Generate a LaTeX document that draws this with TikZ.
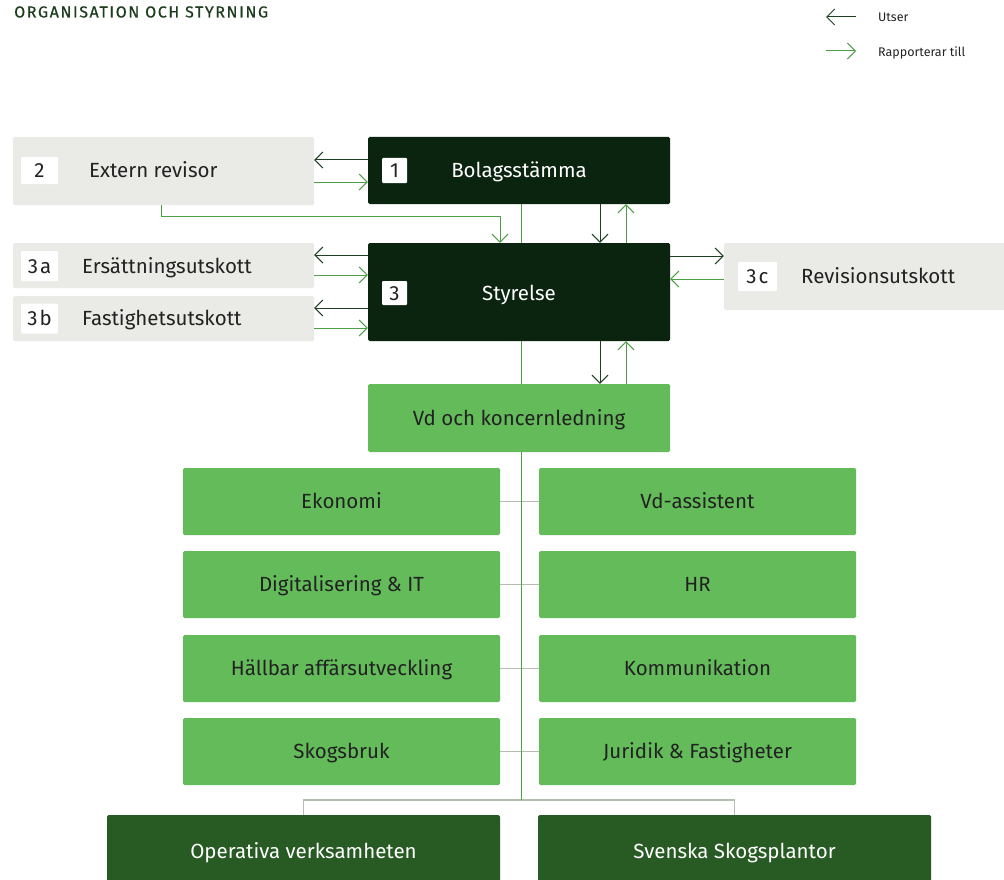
\documentclass[tikz,border=0pt]{standalone}
\usepackage{fontspec}
\setmainfont{Fira Sans}
\usetikzlibrary{arrows.meta,calc}
\definecolor{dkbox}{HTML}{0B2410}
\definecolor{dkline}{HTML}{1F3F22}
\definecolor{gnline}{HTML}{4E9E48}
\definecolor{ltbox}{HTML}{EAEBE7}
\definecolor{vdbox}{HTML}{63BB5A}
\definecolor{botbox}{HTML}{285A24}
\definecolor{grline}{HTML}{B4BFB2}
\definecolor{txt}{HTML}{222222}
\definecolor{titlec}{HTML}{1E3D1E}
\newcommand{\boxfont}{\fontsize{20.5}{24}\selectfont}
\tikzset{
  fixedtext/.style={text height=14pt, text depth=0pt},
  boxbase/.style={rectangle, inner sep=0pt, rounded corners=1.5pt, draw=none, fixedtext},
  lbox/.style={boxbase, fill=ltbox},
  dbox/.style={boxbase, fill=dkbox, text=white, font=\boxfont},
  gbox/.style={boxbase, fill=vdbox, text=txt, font=\boxfont},
  bbox/.style={boxbase, fill=botbox, text=white, font=\boxfont},
  numbox/.style={rectangle, inner sep=0pt, rounded corners=1pt, fill=white, text=txt, font=\boxfont, fixedtext},
  ltext/.style={inner sep=0pt, text=txt, font=\boxfont, fixedtext},
  wtext/.style={inner sep=0pt, text=white, font=\boxfont, fixedtext},
  dkarrow/.style={draw=dkline, line width=1pt, -{Straight Barb[length=8pt,width=16pt]}},
  gnarrow/.style={draw=gnline, line width=1pt, -{Straight Barb[length=8pt,width=16pt]}},
  gnplain/.style={draw=gnline, line width=1pt},
  grplain/.style={draw=grline, line width=1.2pt},
  legtext/.style={inner sep=0pt, anchor=west, text=txt, font=\fontsize{12.5}{14}\selectfont, text height=8.6pt, text depth=0pt}
}
\begin{document}
\begin{tikzpicture}[x=1pt,y=-1pt]
\useasboundingbox (0,0) rectangle (1004,880);
\begin{scope}
\clip (0,0) rectangle (1004,880);

% title
\node[inner sep=0pt, anchor=west, text=titlec, text height=11pt, text depth=0pt, font=\fontsize{16}{18}\selectfont\addfontfeatures{LetterSpace=10,FakeBold=0.5}] (title) at (14,12) {ORGANISATION OCH STYRNING};

% legend
\coordinate (la1) at (856,17);
\coordinate (lb1) at (826,17);
\coordinate (la2) at (826,51);
\coordinate (lb2) at (856,51);
\draw[dkarrow] (la1) -- (lb1);
\draw[gnarrow] (la2) -- (lb2);
\node[legtext] (lt1) at (878,17) {Utser};
\node[legtext] (lt2) at (878,52) {Rapporterar till};

% spine
\coordinate (junc) at (519,800);

% boxes
\node[lbox, minimum width=301, minimum height=68] (ext) at (163.5,171) {};
\node[numbox, minimum width=37, minimum height=27] (n2) at (39.5,170.5) {2};
\node[ltext, anchor=west] (t2) at (89,171) {Extern revisor};

\node[dbox, minimum width=302, minimum height=67] (bol) at (519,170.5) {};
\node[wtext] (bolt) at (519,171) {Bolagsstämma};
\node[numbox, minimum width=25, minimum height=25] (n1) at (394.5,170.5) {1};

\node[dbox, minimum width=302, minimum height=98] (sty) at (519,292) {};
\node[wtext] (styt) at (519,293) {Styrelse};
\node[numbox, minimum width=25, minimum height=24] (n3) at (394.5,293) {3};

\node[lbox, minimum width=301, minimum height=45] (ers) at (163.5,265.5) {};
\node[numbox, minimum width=37, minimum height=30] (n3a) at (39.5,266) {3\hspace{2pt}a};
\node[ltext, anchor=west] (t3a) at (82,266) {Ersättningsutskott};

\node[lbox, minimum width=301, minimum height=45] (fas) at (163.5,318.5) {};
\node[numbox, minimum width=37, minimum height=30] (n3b) at (39.5,318.5) {3\hspace{2pt}b};
\node[ltext, anchor=west] (t3b) at (82,318.5) {Fastighetsutskott};

\node[lbox, minimum width=282, minimum height=67] (rev) at (865,276.5) {};
\node[numbox, minimum width=39, minimum height=29] (n3c) at (757.5,276.5) {3\hspace{2pt}c};
\node[ltext, anchor=west] (t3c) at (801,276.5) {Revisionsutskott};

\node[gbox, minimum width=302, minimum height=68] (vd) at (519,418) {Vd och koncernledning};

\node[gbox, minimum width=317, minimum height=67] (l1) at (341.5,501.5) {Ekonomi};
\node[gbox, minimum width=317, minimum height=67] (r1) at (697.5,501.5) {Vd-assistent};
\node[gbox, minimum width=317, minimum height=67] (l2) at (341.5,584.5) {Digitalisering \& IT};
\node[gbox, minimum width=317, minimum height=67] (r2) at (697.5,584.5) {HR};
\node[gbox, minimum width=317, minimum height=67] (l3) at (341.5,668.5) {Hällbar affärsutveckling};
\node[gbox, minimum width=317, minimum height=67] (r3) at (697.5,668.5) {Kommunikation};
\node[gbox, minimum width=317, minimum height=67] (l4) at (341.5,751.5) {Skogsbruk};
\node[gbox, minimum width=317, minimum height=67] (r4) at (697.5,751.5) {Juridik \& Fastigheter};

\node[bbox, minimum width=393, minimum height=72] (op) at (303.5,851) {};
\node[bbox, minimum width=393, minimum height=72] (ss) at (734.5,851) {};
\node[wtext] (opt) at (303.5,851) {Operativa verksamheten};
\node[wtext] (sst) at (734.5,851) {Svenska Skogsplantor};

% spine lines
\draw[gnplain] ($(bol.south)+(2,0)$) -- ($(sty.north)+(2,0)$);
\draw[gnplain] ($(sty.south)+(2,0)$) -- ($(vd.north)+(2,0)$);
\draw[grplain] (l1.east) -- (r1.west);
\draw[grplain] (l2.east) -- (r2.west);
\draw[grplain] (l3.east) -- (r3.west);
\draw[grplain] (l4.east) -- (r4.west);
\draw[grplain] (op.north) |- (junc) -| (ss.north);
\draw[gnplain] ($(vd.south)+(2,0)$) -- ($(junc)+(2,0)$);

% arrows ext <-> bol
\draw[dkarrow] ($(bol.west)+(0,-10.5)$) -- ($(ext.east |- bol.west)+(0,-10.5)$);
\draw[gnarrow] ($(ext.east |- bol.west)+(0,11.5)$) -- ($(bol.west)+(0,11.5)$);
% ext -> sty
\draw[gnarrow] ($(ext.south)+(-2.5,0)$) |- ($(sty.north)+(-19,-26)$) -- ($(sty.north)+(-19,0)$);
% ers, fas <-> sty
\draw[dkarrow] ($(sty.west |- ers.east)+(0,-10.5)$) -- ($(ers.east)+(0,-10.5)$);
\draw[gnarrow] ($(ers.east)+(0,9.5)$) -- ($(sty.west |- ers.east)+(0,9.5)$);
\draw[dkarrow] ($(sty.west |- fas.east)+(0,-10.5)$) -- ($(fas.east)+(0,-10.5)$);
\draw[gnarrow] ($(fas.east)+(0,9.5)$) -- ($(sty.west |- fas.east)+(0,9.5)$);
% sty <-> rev
\draw[dkarrow] ($(sty.east |- rev.west)+(0,-20.5)$) -- ($(rev.west)+(0,-20.5)$);
\draw[gnarrow] ($(rev.west)+(0,2.5)$) -- ($(sty.east |- rev.west)+(0,2.5)$);
% bol <-> sty
\draw[dkarrow] ($(bol.south)+(81,0)$) -- ($(sty.north)+(81,0)$);
\draw[gnarrow] ($(sty.north)+(107,0)$) -- ($(bol.south)+(107,0)$);
% sty <-> vd
\draw[dkarrow] ($(sty.south)+(81,0)$) -- ($(vd.north)+(81,0)$);
\draw[gnarrow] ($(vd.north)+(107,0)$) -- ($(sty.south)+(107,0)$);
\end{scope}
\end{tikzpicture}
\end{document}
